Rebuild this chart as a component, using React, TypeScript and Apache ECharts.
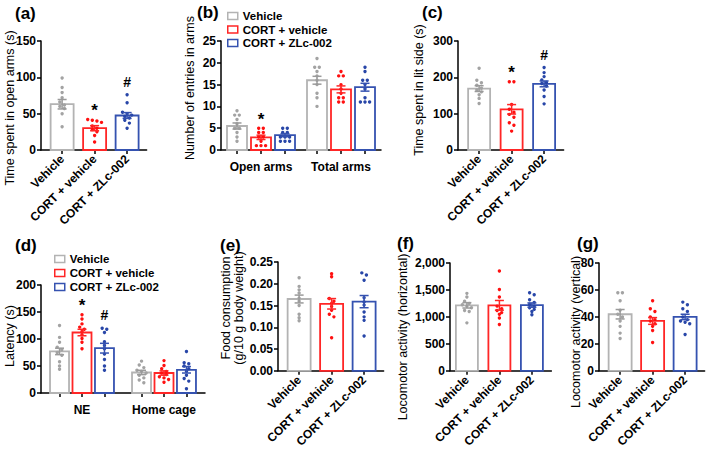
import React, { useEffect, useRef } from "react";
import * as echarts from "echarts";

const FONT = "'Liberation Sans', Arial, sans-serif";

const groups = ["Vehicle", "CORT + vehicle", "CORT + ZLc-002"];
const barColors = ["#b3b3b3", "#ff2626", "#3552b0"];
const dotColors = ["#a3a3a3", "#ff1010", "#2846a8"];

// (a) Time spent in open arms (s)
const aMean = [63, 30, 47.5];
const aSem = [6.5, 3.5, 4];
const aDots = [
  [99, 86, 79, 72, 66, 62, 60, 57, 50, 32],
  [42, 41, 40, 38, 33, 30, 28, 25, 20, 11],
  [76, 65, 52, 50, 48, 46, 44, 41, 37, 30],
];
const aMarks = ["", "*", "#"];

// (b) Number of entries in arms  [group][category]
const bCats = ["Open arms", "Total arms"];
const bMean = [[5.5, 16], [2.9, 13.9], [3.4, 14.4]];
const bSem = [[0.7, 0.9], [0.5, 0.8], [0.35, 0.9]];
const bDots = [
  [[9, 8, 8, 7, 6, 5, 5, 4, 3, 2], [21, 19, 19, 18, 17, 16, 15, 13, 12, 10]],
  [[5, 5, 4, 4, 3, 3, 2, 1, 1, 1], [18, 17, 17, 15, 14, 13, 12, 12, 11, 11]],
  [[5, 5, 4, 4, 3, 3, 3, 2, 2, 2], [19, 18, 16, 16, 15, 14, 12, 11, 11, 11]],
];
const bMarks = [["", ""], ["*", ""], ["", ""]];

// (c) Time spent in lit side (s)
const cMean = [169, 112, 182];
const cSem = [8, 13, 8];
const cDots = [
  [225, 192, 185, 178, 170, 165, 160, 152, 142, 128],
  [188, 188, 125, 112, 104, 98, 90, 75, 68, 52],
  [227, 213, 202, 193, 186, 183, 176, 165, 147, 127],
];
const cMarks = ["", "*", "#"];

// (d) Latency (s)  [group][category]
const dCats = ["NE", "Home cage"];
const dMean = [[77, 38], [112, 37], [83, 43]];
const dSem = [[6, 4], [6, 4], [9, 6]];
const dDots = [
  [[125, 103, 94, 85, 80, 75, 70, 58, 50, 44], [59, 52, 47, 42, 40, 37, 33, 28, 24, 19]],
  [[145, 137, 128, 122, 118, 114, 108, 101, 94, 82], [60, 51, 45, 40, 37, 34, 30, 28, 25, 20]],
  [[120, 118, 112, 95, 88, 82, 72, 62, 50, 42], [77, 56, 54, 50, 45, 40, 33, 27, 22, 8]],
];
const dMarks = [["", ""], ["*", ""], ["#", ""]];

// (e) Food consumption (g/10 g body weight)
const eMean = [0.165, 0.154, 0.159];
const eSem = [0.009, 0.012, 0.014];
const eDots = [
  [0.214, 0.194, 0.186, 0.179, 0.167, 0.16, 0.15, 0.13, 0.122, 0.115],
  [0.223, 0.216, 0.166, 0.16, 0.155, 0.148, 0.139, 0.13, 0.124, 0.076],
  [0.225, 0.22, 0.208, 0.168, 0.158, 0.151, 0.135, 0.124, 0.116, 0.08],
];

// (f) Locomotor activity (horizontal)
const fMean = [1215, 1215, 1220];
const fSem = [50, 90, 40];
const fDots = [
  [1437, 1370, 1290, 1250, 1225, 1200, 1170, 1120, 1100, 890],
  [1850, 1510, 1370, 1200, 1150, 1120, 1080, 1050, 980, 860],
  [1450, 1410, 1320, 1270, 1230, 1200, 1170, 1140, 1100, 1040],
];

// (g) Locomotor activity (vertical)
const gMean = [42, 37, 40];
const gSem = [3.5, 2.5, 2];
const gDots = [
  [58, 58, 52, 45, 42, 40, 37, 33, 28, 24],
  [52, 46, 44, 40, 38, 37, 35, 33, 30, 21],
  [51, 49, 46, 44, 40, 38, 37, 36, 35, 27],
];

type Bar = { x: number; mean: number; sem: number; g: number; dots: number[]; mark: string };
type Panel = {
  grid: { left: number; top: number; width: number; height: number };
  yMax: number;
  yInterval: number;
  yFmt?: (v: number) => string;
  xMin: number;
  xMax: number;
  labels: string[];
  labelPos: number[];
  rotate: number;
  barW: number;
  bars: Bar[];
};

function singleBars(mean: number[], sem: number[], dots: number[][], marks?: string[]): Bar[] {
  return groups.map((_, i) => ({ x: i, mean: mean[i], sem: sem[i], g: i, dots: dots[i], mark: marks ? marks[i] : "" }));
}
function groupedBars(mean: number[][], sem: number[][], dots: number[][][], marks: string[][], off: number): Bar[] {
  const out: Bar[] = [];
  for (let g = 0; g < 3; g++)
    for (let c = 0; c < mean[g].length; c++)
      out.push({ x: c + (g - 1) * off, mean: mean[g][c], sem: sem[g][c], g, dots: dots[g][c], mark: marks[g][c] });
  return out;
}

function swarm(vals: number[], unitPx: number, spacing = 4.6, thresh = 3.0): number[] {
  const idx = vals.map((_, i) => i).sort((a, b) => vals[b] - vals[a]);
  const off = new Array(vals.length).fill(0);
  let i = 0;
  while (i < idx.length) {
    let j = i + 1;
    while (j < idx.length && (vals[idx[i]] - vals[idx[j]]) * unitPx < thresh) j++;
    const k = j - i;
    for (let t = 0; t < k; t++) off[idx[i + t]] = (t - (k - 1) / 2) * spacing;
    i = j;
  }
  return off;
}

const commaFmt = (v: number) => String(v).replace(/\B(?=(\d{3})+(?!\d))/g, ",");

const panels: Panel[] = [
  { grid: { left: 41, top: 41, width: 105.6, height: 109 }, yMax: 150, yInterval: 50, xMin: -0.65, xMax: 2.6,
    labels: groups, labelPos: [0, 1, 2], rotate: 45, barW: 23, bars: singleBars(aMean, aSem, aDots, aMarks) },
  { grid: { left: 221, top: 41, width: 160, height: 109 }, yMax: 25, yInterval: 5, xMin: -0.5, xMax: 1.5,
    labels: bCats, labelPos: [0, 1], rotate: 0, barW: 20, bars: groupedBars(bMean, bSem, bDots, bMarks, 0.3) },
  { grid: { left: 458, top: 41, width: 105.6, height: 109 }, yMax: 300, yInterval: 100, xMin: -0.65, xMax: 2.6,
    labels: groups, labelPos: [0, 1, 2], rotate: 45, barW: 22, bars: singleBars(cMean, cSem, cDots, cMarks) },
  { grid: { left: 41, top: 285, width: 164, height: 108 }, yMax: 200, yInterval: 50, xMin: -0.5, xMax: 1.5,
    labels: dCats, labelPos: [0, 1], rotate: 0, barW: 19, bars: groupedBars(dMean, dSem, dDots, dMarks, 0.274) },
  { grid: { left: 278, top: 262, width: 105.6, height: 109 }, yMax: 0.25, yInterval: 0.05, yFmt: (v) => v.toFixed(2),
    xMin: -0.65, xMax: 2.6, labels: groups, labelPos: [0, 1, 2], rotate: 45, barW: 23, bars: singleBars(eMean, eSem, eDots) },
  { grid: { left: 450, top: 263, width: 101.4, height: 109 }, yMax: 2000, yInterval: 500, yFmt: commaFmt,
    xMin: -0.52, xMax: 2.6, labels: groups, labelPos: [0, 1, 2], rotate: 45, barW: 22, bars: singleBars(fMean, fSem, fDots) },
  { grid: { left: 599, top: 263, width: 105.6, height: 108 }, yMax: 80, yInterval: 20,
    xMin: -0.65, xMax: 2.6, labels: groups, labelPos: [0, 1, 2], rotate: 45, barW: 23, bars: singleBars(gMean, gSem, gDots) },
];

const axisLineStyle = { color: "#000", width: 1.5 };

function buildOption() {
  const grid: any[] = [];
  const xAxis: any[] = [];
  const yAxis: any[] = [];
  const series: any[] = [];

  panels.forEach((p, pi) => {
    grid.push({ ...p.grid, containLabel: false });
    const labels = p.labels;
    const labelPos = p.labelPos;
    xAxis.push({
      type: "value", gridIndex: pi, min: p.xMin, max: p.xMax,
      axisLine: { show: true, onZero: false, lineStyle: axisLineStyle },
      axisTick: { show: true, customValues: p.bars.map((b) => b.x), length: 4, lineStyle: axisLineStyle },
      axisLabel: {
        customValues: labelPos,
        formatter: (v: number) => {
          const k = labelPos.findIndex((q) => Math.abs(q - v) < 1e-6);
          return k >= 0 ? labels[k] : "";
        },
        rotate: p.rotate, margin: p.rotate ? 7 : 11,
        color: "#000", fontWeight: "bold", fontSize: 12, fontFamily: FONT,
      },
      splitLine: { show: false },
    });
    yAxis.push({
      type: "value", gridIndex: pi, min: 0, max: p.yMax, interval: p.yInterval,
      axisLine: { show: true, onZero: false, lineStyle: axisLineStyle },
      axisTick: { show: true, length: 4, lineStyle: axisLineStyle },
      axisLabel: { color: "#000", fontWeight: "bold", fontSize: 12, fontFamily: FONT, margin: 5, formatter: p.yFmt },
      splitLine: { show: false },
    });

    const bw = p.barW;
    // bars, one series per group
    for (let g = 0; g < 3; g++) {
      const data = p.bars.filter((b) => b.g === g).map((b) => [b.x, b.mean]);
      series.push({
        type: "custom", name: groups[g], xAxisIndex: pi, yAxisIndex: pi, encode: { x: 0, y: 1 },
        data,
        itemStyle: { color: "#fff", borderColor: barColors[g], borderWidth: 1.6 },
        renderItem: (_params: any, api: any) => {
          const x = api.value(0);
          const m = api.value(1);
          const p0 = api.coord([x, 0]);
          const p1 = api.coord([x, m]);
          return {
            type: "rect",
            shape: { x: p0[0] - bw / 2, y: p1[1], width: bw, height: p0[1] - p1[1] },
            style: { fill: "#fff", stroke: barColors[g], lineWidth: 1.8 },
          };
        },
      });
    }

    // dots
    const unitPx = p.grid.height / p.yMax;
    const dotData: number[][] = [];
    p.bars.forEach((b) => {
      const offs = swarm(b.dots, unitPx);
      b.dots.forEach((v, i) => dotData.push([b.x, v, offs[i], b.g]));
    });
    series.push({
      type: "custom", name: "dots-" + pi, xAxisIndex: pi, yAxisIndex: pi, encode: { x: 0, y: 1 },
      data: dotData,
      renderItem: (_params: any, api: any) => {
        const pt = api.coord([api.value(0), api.value(1)]);
        return {
          type: "circle",
          shape: { cx: pt[0] + api.value(2), cy: pt[1], r: 1.7 },
          style: { fill: dotColors[api.value(3)] },
        };
      },
    });

    // error bars (mean ± SEM)
    series.push({
      type: "custom", name: "err-" + pi, xAxisIndex: pi, yAxisIndex: pi, encode: { x: 0, y: 1 },
      data: p.bars.map((b) => [b.x, b.mean, b.sem, b.g]),
      renderItem: (_params: any, api: any) => {
        const x = api.value(0), m = api.value(1), s = api.value(2), g = api.value(3);
        const hi = api.coord([x, m + s]);
        const lo = api.coord([x, m - s]);
        const cw = 4.5;
        const st = { stroke: g === 0 ? "#9a9a9a" : barColors[g], lineWidth: 1.5 };
        return {
          type: "group",
          children: [
            { type: "line", shape: { x1: hi[0], y1: hi[1], x2: lo[0], y2: lo[1] }, style: st },
            { type: "line", shape: { x1: hi[0] - cw, y1: hi[1], x2: hi[0] + cw, y2: hi[1] }, style: st },
            { type: "line", shape: { x1: lo[0] - cw, y1: lo[1], x2: lo[0] + cw, y2: lo[1] }, style: st },
          ],
        };
      },
    });

    // significance marks above highest dot
    const marked = p.bars.filter((b) => b.mark);
    if (marked.length) {
      series.push({
        type: "custom", name: "marks-" + pi, xAxisIndex: pi, yAxisIndex: pi, encode: { x: 0, y: 1 },
        data: marked.map((b) => [b.x, Math.max(...b.dots)]),
        renderItem: (params: any, api: any) => {
          const pt = api.coord([api.value(0), api.value(1)]);
          const txt = marked[params.dataIndex].mark;
          return {
            type: "text",
            x: pt[0],
            y: pt[1] - (txt === "*" ? 9 : 13),
            style: {
              text: txt, fill: "#000", align: "center", verticalAlign: "middle",
              font: `bold ${txt === "*" ? 17 : 14}px ${FONT}`,
            },
          };
        },
      });
    }
  });

  const legendBase = (left: number, top: number, gap: number) => ({
    orient: "vertical", left, top, padding: 0, icon: "rect", itemWidth: 10, itemHeight: 7, itemGap: gap,
    selectedMode: false,
    textStyle: { color: "#000", fontWeight: "bold", fontSize: 11.5, fontFamily: FONT, lineHeight: 12 },
    data: groups.map((n, g) => ({ name: n, itemStyle: { color: "#fff", borderColor: barColors[g], borderWidth: 1.5 } })),
  });

  const letter = (t: string, x: number, y: number) => ({
    type: "text", x, y, style: { text: t, font: `bold 17px ${FONT}`, fill: "#000", verticalAlign: "middle" },
  });
  const ytitle = (t: string, x: number, y: number) => ({
    type: "text", x, y, rotation: Math.PI / 2,
    style: { text: t, font: `12.5px ${FONT}`, fill: "#000", align: "center", verticalAlign: "middle", lineHeight: 13 },
  });

  return {
    animation: false,
    backgroundColor: "#fff",
    textStyle: { fontFamily: FONT },
    grid, xAxis, yAxis, series,
    legend: [legendBase(227, 10, 1.5), legendBase(54, 253, 2)],
    graphic: [
      letter("(a)", 15, 13), letter("(b)", 197, 12), letter("(c)", 422, 12),
      letter("(d)", 15, 245), letter("(e)", 220, 245), letter("(f)", 397, 243), letter("(g)", 577, 243),
      ytitle("Time spent in open arms (s)", 10, 108),
      ytitle("Number of entries in arms", 190, 88),
      ytitle("Time spent in lit side (s)", 419, 90),
      ytitle("Latency (s)", 10, 336),
      ytitle("Food consumption\n(g/10 g body weight)", 232, 308),
      ytitle("Locomotor activity (horizontal)", 403, 337),
      ytitle("Locomotor activity (vertical)", 576, 332),
    ],
  };
}

export default function App() {
  const ref = useRef<HTMLDivElement>(null);
  useEffect(() => {
    if (!ref.current) return;
    const chart = echarts.init(ref.current, undefined, { renderer: "svg" });
    chart.setOption(buildOption() as any);
    return () => chart.dispose();
  }, []);
  return (
    <div
      ref={ref}
      style={{ position: "fixed", left: 0, top: 0, width: 709, height: 450, background: "#fff" }}
    />
  );
}
